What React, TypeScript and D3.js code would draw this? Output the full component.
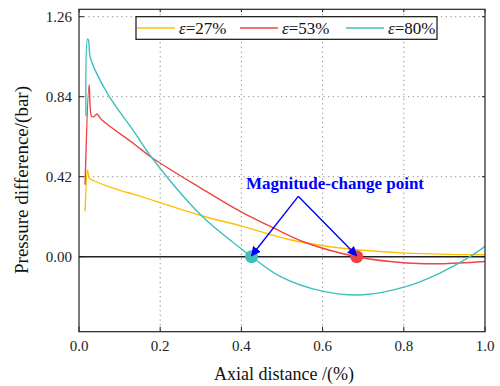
import React from "react";
import * as d3 from "d3";

const xTicks = [0, 0.2, 0.4, 0.6, 0.8, 1.0];
const yTicks = [0, 0.42, 0.84, 1.26];

const x27 = [0.015, 0.021, 0.025, 0.031, 0.072, 0.109, 0.138, 0.302, 0.397, 0.52, 0.643, 0.807, 1.0];
const y27 = [0.238, 0.457, 0.413, 0.404, 0.369, 0.343, 0.326, 0.215, 0.163, 0.089, 0.046, 0.019, 0.01];

const x53 = [0.015, 0.025, 0.031, 0.037, 0.044, 0.056, 0.138, 0.179, 0.3, 0.397, 0.479, 0.561, 0.684, 0.807, 0.889, 1.0];
const y53 = [0.378, 0.903, 0.737, 0.735, 0.749, 0.719, 0.588, 0.521, 0.36, 0.238, 0.151, 0.072, 0, -0.033, -0.037, -0.025];

const x80 = [0.017, 0.021, 0.023, 0.027, 0.031, 0.039, 0.072, 0.138, 0.179, 0.302, 0.397, 0.425, 0.495, 0.602, 0.7, 0.807, 0.889, 0.963, 1.0];
const y80 = [0.737, 1.143, 1.139, 1.052, 1.025, 0.982, 0.85, 0.649, 0.521, 0.215, 0.046, 0, -0.103, -0.182, -0.2, -0.156, -0.086, 0, 0.054];

const seriesNames = ["27%", "53%", "80%"];
const seriesColors = ["#FFC000", "#EE4444", "#3EBFBF"];
const markX = [0.425, 0.684];
const markColors = ["#3EBFBF", "#EE4444"];
const annotText = "Magnitude-change point";
const annotApex = [0.54, 0.317];

export default function App() {
  const W = 500, H = 386;
  const L = 79, R = 485, T = 9.3, B = 331.7;
  const x = d3.scaleLinear().domain([0, 1]).range([L, R]);
  const y = d3.scaleLinear().domain([0, 1.26]).range([256.7, 16.7]);
  const font = "Liberation Serif, Times New Roman, serif";
  const line = d3.line<[number, number]>().x(d => x(d[0])).y(d => y(d[1])).curve(d3.curveCatmullRom.alpha(0.5));
  const series = [
    x27.map((v, i) => [v, y27[i]] as [number, number]),
    x53.map((v, i) => [v, y53[i]] as [number, number]),
    x80.map((v, i) => [v, y80[i]] as [number, number]),
  ];
  const legendX = [137, 240, 346];
  const apx = x(annotApex[0]), apy = y(annotApex[1]);
  return (
    <svg width={W} height={H} style={{ position: "absolute", left: 0, top: 0, background: "#fff", fontFamily: font }}>
      <defs>
        <marker id="ah" viewBox="0 0 10 10" refX="9" refY="5" markerWidth="7" markerHeight="7" orient="auto">
          <path d="M0,0 L10,5 L0,10 z" fill="#0000FF" />
        </marker>
        <clipPath id="clip"><rect x={L} y={T} width={R - L} height={B - T} /></clipPath>
      </defs>
      <rect x={0} y={0} width={W} height={H} fill="#fff" />
      {xTicks.slice(1, -1).map(t => (
        <line key={"gx" + t} x1={x(t)} x2={x(t)} y1={T} y2={B} stroke="#888" strokeWidth={1} strokeDasharray="1.2,3.5" />
      ))}
      {yTicks.slice(1).map(t => (
        <line key={"gy" + t} x1={L} x2={R} y1={y(t)} y2={y(t)} stroke="#888" strokeWidth={1} strokeDasharray="1.2,3.5" />
      ))}
      <line x1={L} x2={R} y1={y(0)} y2={y(0)} stroke="#222" strokeWidth={1.5} />
      <g clipPath="url(#clip)">
        {series.map((s, i) => (
          <path key={i} d={line(s) || ""} fill="none" stroke={seriesColors[i]} strokeWidth={1.4} />
        ))}
      </g>
      {markX.map((m, i) => (
        <circle key={i} cx={x(m)} cy={y(0)} r={6.5} fill={markColors[i]} />
      ))}
      {markX.map((m, i) => (
        <line key={"a" + i} x1={apx} y1={apy} x2={x(m)} y2={y(0) - 1} stroke="#0000FF" strokeWidth={1.4} markerEnd="url(#ah)" />
      ))}
      <text x={335} y={189} textAnchor="middle" fontWeight="bold" fontSize={17} fill="#0000FF">{annotText}</text>
      <rect x={L} y={T} width={R - L} height={B - T} fill="none" stroke="#222" strokeWidth={1.2} />
      {xTicks.map(t => (
        <g key={"tx" + t}>
          <line x1={x(t)} x2={x(t)} y1={B} y2={B - 5} stroke="#222" />
          <line x1={x(t)} x2={x(t)} y1={T} y2={T + 3} stroke="#222" />
          <text x={x(t)} y={351} textAnchor="middle" fontSize={15} fill="#222">{t.toFixed(1)}</text>
        </g>
      ))}
      {yTicks.map(t => (
        <g key={"ty" + t}>
          <line x1={L} x2={L + 5} y1={y(t)} y2={y(t)} stroke="#222" />
          <line x1={R} x2={R - 3} y1={y(t)} y2={y(t)} stroke="#222" />
          <text x={72} y={y(t) + 5} textAnchor="end" fontSize={15} fill="#222">{t.toFixed(2)}</text>
        </g>
      ))}
      <text x={284} y={380} textAnchor="middle" fontSize={18} fill="#111">Axial distance /(%)</text>
      <text transform={`translate(28,180) rotate(-90)`} textAnchor="middle" fontSize={19} fill="#111">Pressure difference/(bar)</text>
      <rect x={136} y={16.7} width={301} height={22.6} fill="#fff" stroke="#111" strokeWidth={1.2} />
      {seriesNames.map((n, i) => (
        <g key={"lg" + i}>
          <line x1={legendX[i]} x2={legendX[i] + 38} y1={28} y2={28} stroke={seriesColors[i]} strokeWidth={1.6} />
          <text x={legendX[i] + 42} y={34} fontSize={17} fill="#111">
            <tspan fontStyle="italic">ε</tspan>={n}
          </text>
        </g>
      ))}
    </svg>
  );
}
